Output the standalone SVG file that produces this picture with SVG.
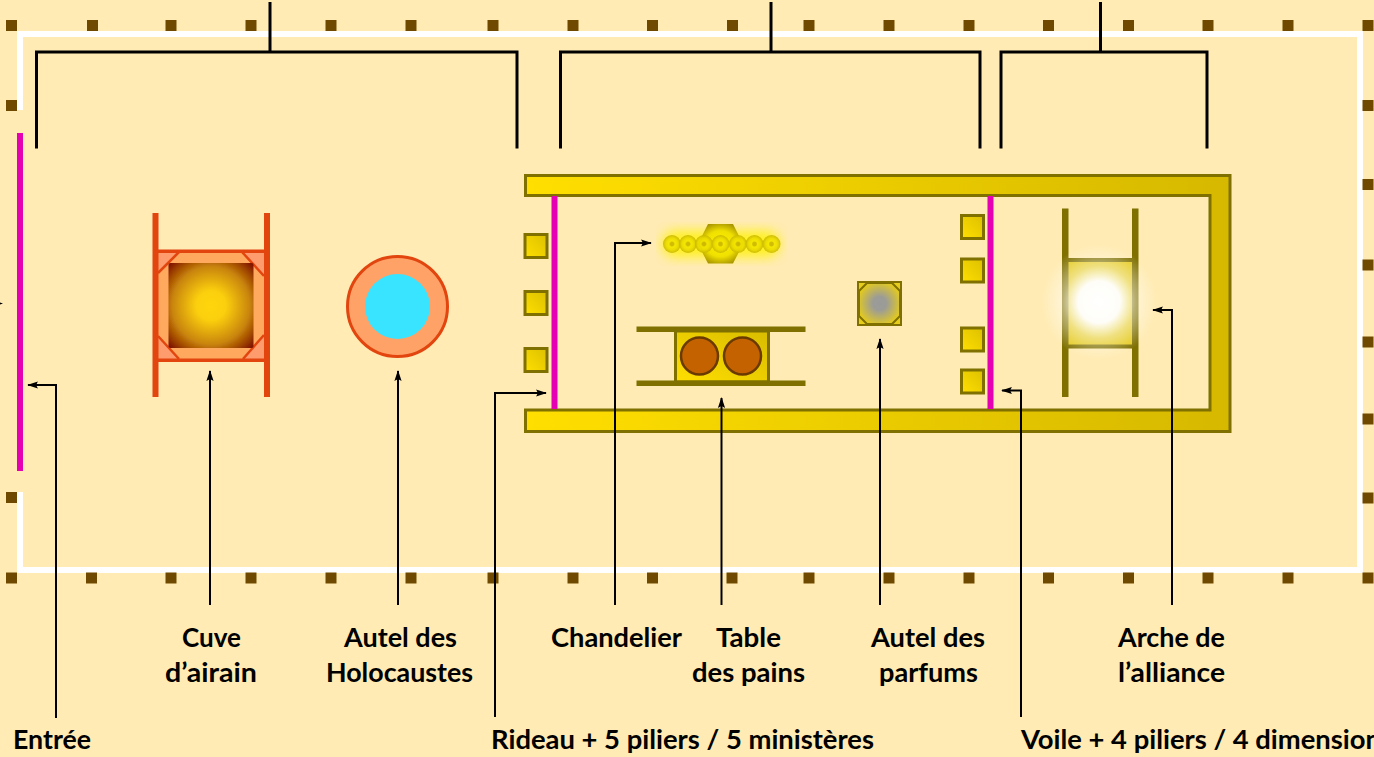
<svg xmlns="http://www.w3.org/2000/svg" width="1374" height="757" viewBox="0 0 1374 757">
<style>
.post{fill:#704a00}
.wall{fill:none;stroke:#fff;stroke-width:6}
.veil{fill:#e600b4}
.gold{stroke:#7f7000;stroke-width:3}
.olive{fill:#7f7000}
.red{fill:#e2450f}
.bracket{fill:none;stroke:#000;stroke-width:3}
.arrow{fill:none;stroke:#000;stroke-width:2;marker-end:url(#head)}
.soft{filter:url(#soft)}
.lamp{fill:url(#lamp);opacity:.9}
text{font-family:"Lato","Carlito","Open Sans",sans-serif;font-weight:700;font-size:27px;fill:#000}
</style>
<defs>
<filter id="soft" x="-5%" y="-5%" width="110%" height="110%"><feGaussianBlur stdDeviation="0.5"/></filter>
<marker id="head" viewBox="0 0 12 10" refX="11" refY="5" markerWidth="12" markerHeight="9" markerUnits="userSpaceOnUse" orient="auto"><path d="M0 1L12 5L0 9L2 5Z" fill="#000"/></marker>
<linearGradient id="goldBar" gradientUnits="userSpaceOnUse" x1="525" y1="0" x2="1231" y2="0"><stop offset="0" stop-color="#ffdf00"/><stop offset="1" stop-color="#d6b800"/></linearGradient>
<linearGradient id="pillar" x1="0" y1="1" x2="1" y2="0"><stop offset="0" stop-color="#ffdf00"/><stop offset="1" stop-color="#dcc000"/></linearGradient>
<linearGradient id="tableBox" x1="0" y1="1" x2="1" y2="0"><stop offset="0" stop-color="#ffdf00"/><stop offset="1" stop-color="#d8bc00"/></linearGradient>
<radialGradient id="basin" cx="0.5" cy="0.5" r="0.7"><stop offset="0" stop-color="#ffd60a"/><stop offset="0.25" stop-color="#fbcf0a"/><stop offset="0.65" stop-color="#c98508"/><stop offset="1" stop-color="#7a0c00"/></radialGradient>
<radialGradient id="incense" cx="0.5" cy="0.5" r="0.55"><stop offset="0" stop-color="#9a9a9a"/><stop offset="0.3" stop-color="#9c9c96"/><stop offset="1" stop-color="#e6cc1a"/></radialGradient>
<radialGradient id="glory" gradientUnits="userSpaceOnUse" cx="1099" cy="302" r="58"><stop offset="0" stop-color="#fff"/><stop offset="0.36" stop-color="#fff" stop-opacity="0.97"/><stop offset="0.62" stop-color="#fff" stop-opacity="0.45"/><stop offset="1" stop-color="#fff" stop-opacity="0"/></radialGradient>
<radialGradient id="lamp"><stop offset="0" stop-color="#c8b400"/><stop offset="0.2" stop-color="#cdb900"/><stop offset="0.34" stop-color="#f4e600"/><stop offset="0.65" stop-color="#eadb00"/><stop offset="1" stop-color="#c8b600"/></radialGradient>
<radialGradient id="hex" cx="0.5" cy="0.5" r="0.55"><stop offset="0" stop-color="#fff000"/><stop offset="0.6" stop-color="#f0e000"/><stop offset="1" stop-color="#a89400"/></radialGradient>
<filter id="glow" x="-30%" y="-80%" width="160%" height="260%"><feGaussianBlur stdDeviation="6"/></filter>
</defs>
<rect width="1374" height="757" fill="#ffebb3"/>

<g id="court" class="soft">
<path class="wall" d="M20 110V34H1360V570H20V492"/>
<g id="posts">
<rect class="post" x="6" y="20" width="11" height="11"/><rect class="post" x="87" y="20" width="11" height="11"/><rect class="post" x="165.500" y="20" width="11" height="11"/><rect class="post" x="245.500" y="20" width="11" height="11"/><rect class="post" x="325.500" y="20" width="11" height="11"/><rect class="post" x="405.500" y="20" width="11" height="11"/><rect class="post" x="487.500" y="20" width="11" height="11"/><rect class="post" x="567.500" y="20" width="11" height="11"/><rect class="post" x="647" y="20" width="11" height="11"/><rect class="post" x="727" y="20" width="11" height="11"/><rect class="post" x="803.500" y="20" width="11" height="11"/><rect class="post" x="883.500" y="20" width="11" height="11"/><rect class="post" x="963.500" y="20" width="11" height="11"/><rect class="post" x="1043" y="20" width="11" height="11"/><rect class="post" x="1123" y="20" width="11" height="11"/><rect class="post" x="1202.500" y="20" width="11" height="11"/><rect class="post" x="1282.500" y="20" width="11" height="11"/><rect class="post" x="1362.500" y="20" width="11" height="11"/>
<rect class="post" x="6" y="572.500" width="11" height="11"/><rect class="post" x="86" y="572.500" width="11" height="11"/><rect class="post" x="165.500" y="572.500" width="11" height="11"/><rect class="post" x="245.500" y="572.500" width="11" height="11"/><rect class="post" x="325.500" y="572.500" width="11" height="11"/><rect class="post" x="405.500" y="572.500" width="11" height="11"/><rect class="post" x="487.500" y="572.500" width="11" height="11"/><rect class="post" x="567.500" y="572.500" width="11" height="11"/><rect class="post" x="647" y="572.500" width="11" height="11"/><rect class="post" x="726.500" y="572.500" width="11" height="11"/><rect class="post" x="803.500" y="572.500" width="11" height="11"/><rect class="post" x="883.500" y="572.500" width="11" height="11"/><rect class="post" x="963.500" y="572.500" width="11" height="11"/><rect class="post" x="1043" y="572.500" width="11" height="11"/><rect class="post" x="1123" y="572.500" width="11" height="11"/><rect class="post" x="1202.500" y="572.500" width="11" height="11"/><rect class="post" x="1282.500" y="572.500" width="11" height="11"/><rect class="post" x="1362.500" y="572.500" width="11" height="11"/>
<rect class="post" x="6" y="100" width="11" height="11"/><rect class="post" x="6" y="492" width="11" height="11"/>
<rect class="post" x="1362.500" y="100" width="11" height="11"/><rect class="post" x="1362.500" y="179" width="11" height="11"/><rect class="post" x="1362.500" y="259.500" width="11" height="11"/><rect class="post" x="1362.500" y="336.500" width="11" height="11"/><rect class="post" x="1362.500" y="413.500" width="11" height="11"/><rect class="post" x="1362.500" y="492.500" width="11" height="11"/>
</g>
</g>

<g id="entree" class="soft"><rect class="veil" x="17" y="133" width="6" height="338"/></g>

<g id="cuve" class="soft">
<rect x="158" y="251" width="106" height="109" fill="#ffa95e"/>
<path d="M158 251H179L158 273ZM264 251H242L264 276ZM158 360H179L158 336ZM264 360H243L264 335Z" fill="#ff9c6e"/>
<path d="M179 252L158 273M242 252L264 276M158 336L179 359M264 335L243 359" fill="none" stroke="#e2450f" stroke-width="2.5"/>
<rect x="168.500" y="263" width="85" height="85" rx="2" fill="url(#basin)"/>
<rect class="red" x="158" y="249.500" width="106" height="3.500"/>
<rect class="red" x="158" y="358.500" width="106" height="3.500"/>
<rect class="red" x="152.500" y="213" width="6" height="184"/>
<rect class="red" x="264" y="213" width="6" height="184"/>
</g>

<g id="autel-holocaustes" class="soft">
<circle cx="397.500" cy="306.500" r="50" fill="#ffa268" stroke="#e2450f" stroke-width="3"/>
<circle cx="397.500" cy="306.500" r="32.500" fill="#38e4ff"/>
</g>

<g id="tabernacle" class="soft">
<path d="M525.500 175.500H1230V431.500H525.500V410H1210V195.500H525.500Z" fill="url(#goldBar)" class="gold"/>
</g>

<g id="rideau" class="soft">
<rect class="veil" x="551.500" y="196" width="6" height="213"/>
<rect class="gold" fill="url(#pillar)" x="525" y="234.500" width="22" height="23"/>
<rect class="gold" fill="url(#pillar)" x="525" y="291.500" width="22" height="23"/>
<rect class="gold" fill="url(#pillar)" x="525" y="348.500" width="22" height="23"/>
</g>

<g id="chandelier" class="soft">
<rect x="662" y="231" width="118" height="26" rx="13" fill="#fff200" opacity="0.85" filter="url(#glow)"/>
<path d="M708 224H733L743 244L733 263.500H708L698 244Z" fill="url(#hex)"/>
<circle class="lamp" cx="672" cy="244" r="9"/><circle class="lamp" cx="688" cy="244" r="9"/><circle class="lamp" cx="704" cy="244" r="9"/><circle class="lamp" cx="720.500" cy="244" r="9"/><circle class="lamp" cx="738" cy="244" r="9"/><circle class="lamp" cx="754.500" cy="244" r="9"/><circle class="lamp" cx="771.500" cy="244" r="9"/>
</g>

<g id="table-des-pains" class="soft">
<rect class="gold" fill="url(#tableBox)" x="675.500" y="331" width="93" height="51"/>
<rect class="olive" x="636.500" y="326.500" width="169" height="5.500"/>
<rect class="olive" x="636.500" y="380.500" width="169" height="5.500"/>
<circle cx="699.500" cy="356" r="18.500" fill="#c46200" stroke="#6b3a00" stroke-width="2.500"/>
<circle cx="742.500" cy="356" r="18.500" fill="#c46200" stroke="#6b3a00" stroke-width="2.500"/>
</g>

<g id="autel-parfums" class="soft">
<rect x="858.500" y="282.500" width="42" height="42" fill="url(#incense)" stroke="#7f7000" stroke-width="3"/>
<path d="M858 282H868L858 292ZM901 282H891L901 292ZM858 325H868L858 315ZM901 325H891L901 315Z" fill="#e6cc1a" stroke="#7f7000" stroke-width="2"/>
</g>

<g id="voile" class="soft">
<rect class="veil" x="987.500" y="196" width="6" height="213"/>
<rect class="gold" fill="url(#pillar)" x="961.500" y="215.500" width="22" height="23"/>
<rect class="gold" fill="url(#pillar)" x="961.500" y="259" width="22" height="23"/>
<rect class="gold" fill="url(#pillar)" x="961.500" y="328" width="22" height="23"/>
<rect class="gold" fill="url(#pillar)" x="961.500" y="370" width="22" height="23"/>
</g>

<g id="arche" class="soft">
<rect x="1068" y="260" width="64" height="86" fill="#e4c818"/>
<rect class="olive" x="1068" y="258" width="64" height="4"/>
<rect class="olive" x="1068" y="344.500" width="64" height="4"/>
<rect class="olive" x="1062" y="208.500" width="6.500" height="188.500"/>
<rect class="olive" x="1132" y="208.500" width="6.500" height="188.500"/>
<circle cx="1099" cy="302" r="58" fill="url(#glory)"/>
</g>

<g id="connectors" class="soft">
<path class="bracket" d="M36.500 148.500V52H517V148.500M270 2V52"/>
<path class="bracket" d="M560.500 148.500V52H980V148.500M771 2V52"/>
<path class="bracket" d="M1001 148.500V52H1207V148.500M1100.500 2V52"/>
<path class="arrow" d="M56 718V385H28"/>
<path class="arrow" d="M210 605V371"/>
<path class="arrow" d="M398 605V371"/>
<path class="arrow" d="M495 717V393H546"/>
<path class="arrow" d="M615 605V243H651"/>
<path class="arrow" d="M721.500 605V398"/>
<path class="arrow" d="M880 605V339"/>
<path class="arrow" d="M1021 717V390.500H1002"/>
<path class="arrow" d="M1172 605V310H1153"/>
<path d="M0 302.500L3 303.500L0 304.500Z" fill="#000"/>
</g>

<g id="labels">
<text x="182" y="647" textLength="59" lengthAdjust="spacingAndGlyphs">Cuve</text>
<text x="165" y="682" textLength="92" lengthAdjust="spacingAndGlyphs">d’airain</text>
<text x="344" y="647" textLength="113" lengthAdjust="spacingAndGlyphs">Autel des</text>
<text x="326" y="682" textLength="147" lengthAdjust="spacingAndGlyphs">Holocaustes</text>
<text x="551" y="647" textLength="131" lengthAdjust="spacingAndGlyphs">Chandelier</text>
<text x="716" y="647" textLength="65" lengthAdjust="spacingAndGlyphs">Table</text>
<text x="692" y="682" textLength="113" lengthAdjust="spacingAndGlyphs">des pains</text>
<text x="871" y="647" textLength="114" lengthAdjust="spacingAndGlyphs">Autel des</text>
<text x="879" y="682" textLength="99" lengthAdjust="spacingAndGlyphs">parfums</text>
<text x="1118" y="647" textLength="107" lengthAdjust="spacingAndGlyphs">Arche de</text>
<text x="1118" y="682" textLength="107" lengthAdjust="spacingAndGlyphs">l’alliance</text>
<text x="13" y="749" textLength="78" lengthAdjust="spacingAndGlyphs">Entrée</text>
<text x="491" y="749" textLength="383" lengthAdjust="spacingAndGlyphs">Rideau + 5 piliers / 5 ministères</text>
<text x="1021" y="749" textLength="372" lengthAdjust="spacingAndGlyphs">Voile + 4 piliers / 4 dimensions</text>
</g>
</svg>
